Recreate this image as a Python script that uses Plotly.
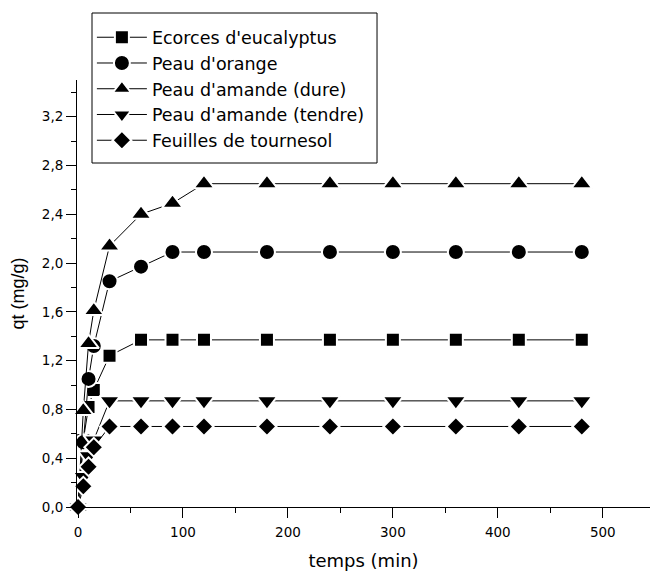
import plotly.graph_objects as go

# Contact time (min)
temps = [0, 5, 10, 15, 30, 60, 90, 120, 180, 240, 300, 360, 420, 480]

# Adsorbed quantity qt (mg/g) per adsorbent
ecorces_eucalyptus = [0, 0.55, 0.82, 0.96, 1.24, 1.37, 1.37, 1.37, 1.37, 1.37, 1.37, 1.37, 1.37, 1.37]
peau_orange = [0, 0.53, 1.05, 1.32, 1.85, 1.97, 2.09, 2.09, 2.09, 2.09, 2.09, 2.09, 2.09, 2.09]
amande_dure = [0, 0.79, 1.34, 1.61, 2.14, 2.40, 2.49, 2.65, 2.65, 2.65, 2.65, 2.65, 2.65, 2.65]
amande_tendre = [0, 0.25, 0.42, 0.55, 0.87, 0.87, 0.87, 0.87, 0.87, 0.87, 0.87, 0.87, 0.87, 0.87]
feuilles_tournesol = [0, 0.17, 0.33, 0.49, 0.66, 0.66, 0.66, 0.66, 0.66, 0.66, 0.66, 0.66, 0.66, 0.66]

series = [
    ("Ecorces d'eucalyptus", ecorces_eucalyptus, "square", 14),
    ("Peau d'orange", peau_orange, "circle", 16),
    ("Peau d'amande (dure)", amande_dure, "triangle-up", 18),
    ("Peau d'amande (tendre)", amande_tendre, "triangle-down", 18),
    ("Feuilles de tournesol", feuilles_tournesol, "diamond", 14.5),
]

WIDE = "DejaVu Sans, sans-serif"
NARROW = "Liberation Sans, Arial, sans-serif"

fig = go.Figure()
for name, values, symbol, size in series:
    # white rim leaves a small gap between the connecting line and each symbol
    fig.add_trace(go.Scatter(
        x=temps, y=values, name=name, mode="lines+markers",
        line=dict(color="black", width=1),
        marker=dict(symbol=symbol, size=size, color="black",
                    line=dict(color="white", width=2)),
        cliponaxis=False,
    ))

# Frame around the legend (drawn separately to get roomier padding)
fig.add_shape(
    type="rect", xref="paper", yref="paper",
    x0=0.0262, x1=0.5236, y0=0.8056, y1=1.1569,
    line=dict(color="black", width=1), fillcolor="rgba(0,0,0,0)",
    layer="above",
)

fig.update_layout(
    width=650, height=571,
    margin=dict(l=77, r=0, t=80, b=64),
    paper_bgcolor="white", plot_bgcolor="white",
    separators=", ",
    font=dict(family=WIDE, color="black"),
    showlegend=True,
    legend=dict(
        x=0.026, y=1.142, xanchor="left", yanchor="top",
        borderwidth=0, bgcolor="rgba(0,0,0,0)",
        font=dict(size=17.5, family=WIDE), itemwidth=50,
        tracegroupgap=0,
    ),
)

fig.update_xaxes(
    range=[-1, 545], showgrid=False, zeroline=False,
    showline=True, linecolor="black", linewidth=1,
    ticks="outside", ticklen=10, tickcolor="black",
    tick0=0, dtick=100, ticklabelstandoff=3,
    minor=dict(ticks="outside", ticklen=5, tickcolor="black", dtick=50, showgrid=False),
    tickfont=dict(size=13.5, family=WIDE),
    title=dict(text="temps (min)", font=dict(size=18, family=WIDE), standoff=18),
)
fig.update_yaxes(
    range=[0, 3.5], showgrid=False, zeroline=False,
    showline=True, linecolor="black", linewidth=1,
    ticks="outside", ticklen=10, tickcolor="black",
    tick0=0, dtick=0.4, tickformat=".1f",
    minor=dict(ticks="outside", ticklen=5, tickcolor="black", dtick=0.2, showgrid=False),
    tickfont=dict(size=13.5, family=WIDE),
    title=dict(text="qt (mg/g)", font=dict(size=18, family=NARROW), standoff=12),
)

fig.write_html("out.html")
